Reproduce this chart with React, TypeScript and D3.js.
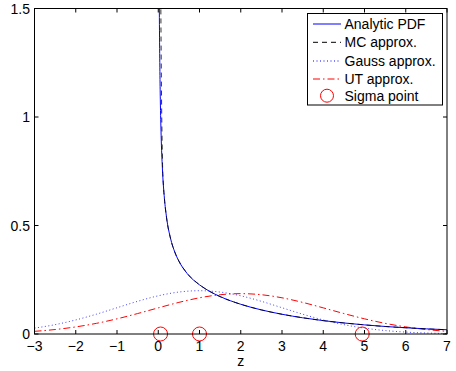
import React from "react";
import * as d3 from "d3";

// Analytic PDF of z
const analyticZ = [0.02, 0.025, 0.03, 0.04, 0.05, 0.07, 0.1, 0.15, 0.2, 0.3, 0.4, 0.5, 0.7, 1, 1.25, 1.5, 2, 2.5, 3, 3.5, 4, 4.5, 5, 5.5, 6, 6.5, 7];
const analyticP = [1.711, 1.530, 1.397, 1.210, 1.082, 0.914, 0.765, 0.624, 0.539, 0.439, 0.378, 0.336, 0.279, 0.2265, 0.196, 0.1725, 0.137, 0.111, 0.091, 0.0747, 0.0616, 0.0509, 0.042, 0.0347, 0.0287, 0.0237, 0.0196];

// Monte Carlo approximation
const mcZ = [0.058, 0.062, 0.07, 0.08, 0.1, 0.13, 0.15, 0.2, 0.3, 0.4, 0.5, 0.7, 1, 1.25, 1.5, 2, 2.5, 3, 3.5, 4, 4.5, 5, 5.5, 6, 6.5, 7];
const mcP = [1.62, 1.52, 1.30, 1.08, 0.82, 0.67, 0.622, 0.537, 0.438, 0.378, 0.336, 0.280, 0.227, 0.196, 0.172, 0.137, 0.111, 0.091, 0.075, 0.0615, 0.051, 0.042, 0.0345, 0.0288, 0.0236, 0.0195];

// Gauss (linearised) approximation
const gaussZ = [-3, -2.5, -2, -1.5, -1, -0.5, 0, 0.5, 1, 1.5, 2, 2.5, 3, 3.5, 4, 4.5, 5, 5.5, 6, 6.5, 7];
const gaussP = [0.0270, 0.0431, 0.0648, 0.0913, 0.1210, 0.1506, 0.1760, 0.1933, 0.1995, 0.1933, 0.1760, 0.1506, 0.1210, 0.0913, 0.0648, 0.0431, 0.0270, 0.0159, 0.0088, 0.0046, 0.0022];

// Unscented transform approximation
const utZ = [-3, -2.5, -2, -1.5, -1, -0.5, 0, 0.5, 1, 1.5, 2, 2.5, 3, 3.5, 4, 4.5, 5, 5.5, 6, 6.5, 7];
const utP = [0.0123, 0.0206, 0.0327, 0.0491, 0.0699, 0.0943, 0.1204, 0.1457, 0.1668, 0.1810, 0.1860, 0.1810, 0.1668, 0.1457, 0.1204, 0.0943, 0.0699, 0.0491, 0.0327, 0.0206, 0.0123];

// Sigma points
const sigmaZ = [0.0557, 1, 4.944];
const sigmaP = [0, 0, 0];

const xTicks = [-3, -2, -1, 0, 1, 2, 3, 4, 5, 6, 7];
const yTicks = [0, 0.5, 1, 1.5];
const yTickLabels = ["0", "0.5", "1", "1.5"];
const legendLabels = ["Analytic PDF", "MC approx.", "Gauss approx.", "UT approx.", "Sigma point"];

export default function App() {
  const W = 456, H = 371;
  const L = 34.5, R = 447, T = 8.5, B = 334;
  const x = d3.scaleLinear().domain([-3, 7]).range([L, R]);
  const y = d3.scaleLinear().domain([0, 1.5]).range([B, T]);
  const font = "'Liberation Sans', Arial, Helvetica, sans-serif";

  const line = (zs: number[], ps: number[]) =>
    d3.line<number>().x((_, i) => x(zs[i])).y((_, i) => y(ps[i])).curve(d3.curveMonotoneX)(zs) || "";

  const styles = [
    { stroke: "#0000ff", dash: undefined as string | undefined },
    { stroke: "#000000", dash: "5,4" },
    { stroke: "#0000ff", dash: "1,2.5" },
    { stroke: "#ff0000", dash: "7,3,1.5,3" },
  ];
  const legRows = [24, 42.3, 61, 79, 95.7];

  return (
    <svg width={W} height={H} style={{ position: "absolute", left: 0, top: 0, background: "#fff" }} fontFamily={font}>
      <defs>
        <clipPath id="plotclip">
          <rect x={L} y={T} width={R - L} height={B - T} />
        </clipPath>
      </defs>
      <rect x={0} y={0} width={W} height={H} fill="#fff" />
      <g clipPath="url(#plotclip)" fill="none" strokeWidth={1}>
        <path d={line(gaussZ, gaussP)} stroke={styles[2].stroke} strokeDasharray={styles[2].dash} strokeOpacity={0.75} />
        <path d={line(utZ, utP)} stroke={styles[3].stroke} strokeDasharray={styles[3].dash} />
        <path d={line(analyticZ, analyticP)} stroke={styles[0].stroke} />
        <path d={line(mcZ, mcP)} stroke={styles[1].stroke} strokeDasharray={styles[1].dash} strokeOpacity={0.8} />
      </g>
      {sigmaZ.map((z, i) => (
        <circle key={i} cx={x(z)} cy={y(sigmaP[i])} r={7} fill="none" stroke="#ff0000" strokeWidth={1} />
      ))}
      {/* axes box */}
      <rect x={L} y={T} width={R - L} height={B - T} fill="none" stroke="#000" strokeWidth={1} />
      {xTicks.map((t) => (
        <g key={"x" + t}>
          <line x1={x(t)} x2={x(t)} y1={B} y2={B - 4} stroke="#000" />
          <line x1={x(t)} x2={x(t)} y1={T} y2={T + 4} stroke="#000" />
          <text x={x(t)} y={351} fontSize={14} textAnchor="middle">{t < 0 ? "\u2212" + Math.abs(t) : String(t)}</text>
        </g>
      ))}
      {yTicks.map((t, i) => (
        <g key={"y" + t}>
          <line x1={L} x2={L + 4} y1={y(t)} y2={y(t)} stroke="#000" />
          <line x1={R} x2={R - 4} y1={y(t)} y2={y(t)} stroke="#000" />
          <text x={30} y={y(t) + 5} fontSize={14} textAnchor="end">{yTickLabels[i]}</text>
        </g>
      ))}
      <text x={x(2)} y={366} fontSize={14} textAnchor="middle">z</text>
      {/* legend */}
      <rect x={307.5} y={13.5} width={135} height={91.5} fill="#fff" stroke="#000" strokeWidth={1} />
      {legendLabels.map((lab, i) => (
        <g key={lab}>
          {i < 4 ? (
            <line x1={313} x2={341} y1={legRows[i]} y2={legRows[i]} stroke={styles[i].stroke} strokeDasharray={styles[i].dash} strokeWidth={1} />
          ) : (
            <circle cx={327} cy={legRows[i]} r={6.5} fill="none" stroke="#ff0000" strokeWidth={1} />
          )}
          <text x={344.5} y={legRows[i] + 5} fontSize={14}>{lab}</text>
        </g>
      ))}
    </svg>
  );
}
